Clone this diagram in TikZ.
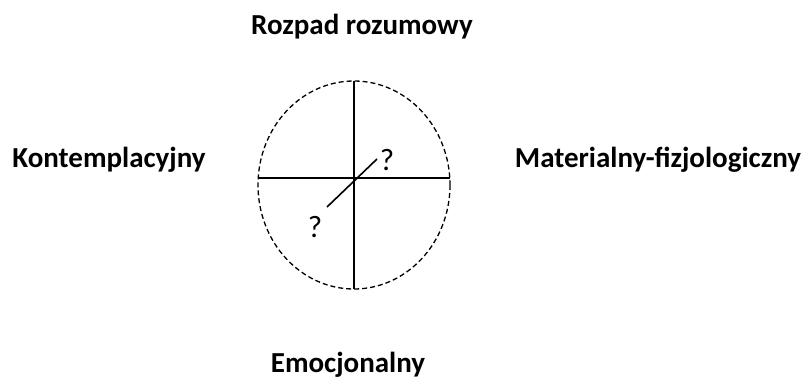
\documentclass[tikz,border=0pt]{standalone}
\usepackage{fontspec}
\setmainfont{Carlito}
\begin{document}
\begin{tikzpicture}[x=1pt,y=-1pt,
  lbl/.style={font=\bfseries\fontsize{29}{33}\selectfont, anchor=base, inner sep=0pt},
  qm/.style={font=\fontsize{31}{35}\selectfont, anchor=base, inner sep=0pt},
  ln/.style={line width=1.6pt, black}]
\useasboundingbox (0,0) rectangle (806,378);
\node[lbl] (top) at (362,34) {Rozpad rozumowy};
\node[lbl] (left) at (109,167) {Kontemplacyjny};
\node[lbl] (right) at (658,167) {Materialny-fizjologiczny};
\node[lbl] (bottom) at (348,372) {Emocjonalny};
\draw[line width=1.3pt, dash pattern=on 5pt off 3pt] (354,185) ellipse [x radius=96, y radius=104];
\coordinate (vt) at (354,81);
\coordinate (vb) at (354,289);
\coordinate (hl) at (258,178);
\coordinate (hr) at (450,178);
\coordinate (d1) at (327,207);
\coordinate (d2) at (377,159);
\draw[ln] (vt) -- (vb);
\draw[ln] (hl) -- (hr);
\draw[ln] (d1) -- (d2);
\node[qm] (q1) at (387,170) {?};
\node[qm] (q2) at (315,237) {?};
\end{tikzpicture}
\end{document}
